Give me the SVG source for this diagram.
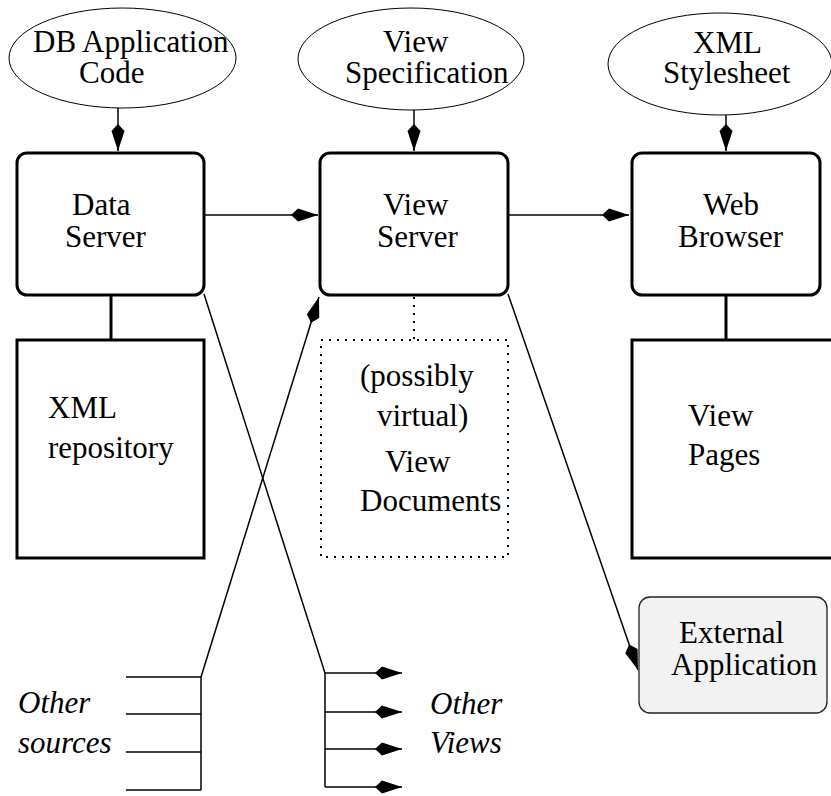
<svg xmlns="http://www.w3.org/2000/svg" width="831" height="796" viewBox="0 0 831 796">
<style>
  text { font-family: "Liberation Serif", "Times New Roman", serif; font-size: 31px; fill: #000; }
  .it { font-style: italic; }
  .ell { fill: #fff; stroke: #000; stroke-width: 1; }
  .box { fill: #fff; stroke: #000; stroke-width: 3; }
  .ext { fill: #f2f2f2; stroke: #222; stroke-width: 1.3; }
  .dot { fill: none; stroke: #000; stroke-width: 2; stroke-dasharray: 2 6; }
  .ln { fill: none; stroke: #000; stroke-width: 1.5; }
  .thick { fill: none; stroke: #000; stroke-width: 3; }
  .arr { marker-end: url(#kite); }
</style>
<defs>
  <marker id="kite" viewBox="-28 -8 29 16" refX="0" refY="0" markerWidth="29" markerHeight="16" markerUnits="userSpaceOnUse" orient="auto">
    <path d="M0,0 L-20,-6.5 L-27,0 L-20,6.5 Z" fill="#000"/>
  </marker>
</defs>
<rect width="831" height="796" fill="#fff"/>

<g id="connectors">
  <line class="ln arr" x1="118" y1="108" x2="118" y2="151"/>
  <line class="ln arr" x1="414" y1="110" x2="414" y2="151"/>
  <line class="ln arr" x1="726" y1="115" x2="726" y2="151"/>
  <line class="ln arr" x1="204" y1="215" x2="318" y2="215"/>
  <line class="ln arr" x1="508" y1="215" x2="629" y2="215"/>
  <line class="thick" x1="111" y1="295" x2="111" y2="340"/>
  <line class="thick" x1="726" y1="295" x2="726" y2="340"/>
  <line class="dot" x1="414" y1="297" x2="414" y2="340"/>
  <polyline class="ln" points="204,294 325,673 325,787"/>
  <line class="ln arr" x1="325" y1="673" x2="402" y2="673"/>
  <line class="ln arr" x1="325" y1="712" x2="402" y2="712"/>
  <line class="ln arr" x1="325" y1="749" x2="402" y2="749"/>
  <line class="ln arr" x1="325" y1="787" x2="402" y2="787"/>
  <polyline class="ln" points="201,790 201,677"/>
  <line class="ln arr" x1="201" y1="677" x2="319" y2="297"/>
  <line class="ln" x1="126" y1="677" x2="201" y2="677"/>
  <line class="ln" x1="126" y1="714" x2="201" y2="714"/>
  <line class="ln" x1="126" y1="752" x2="201" y2="752"/>
  <line class="ln" x1="126" y1="790" x2="201" y2="790"/>
  <line class="ln arr" x1="508" y1="294" x2="638" y2="670"/>
</g>

<g id="db-app-code">
  <ellipse class="ell" cx="122.5" cy="58" rx="113.5" ry="50"/>
  <text x="33" y="52">DB Application</text>
  <text x="79" y="83">Code</text>
</g>
<g id="view-spec">
  <ellipse class="ell" cx="411" cy="59" rx="113" ry="51"/>
  <text x="383" y="52">View</text>
  <text x="345" y="83">Specification</text>
</g>
<g id="xml-stylesheet">
  <ellipse class="ell" cx="720" cy="64" rx="112" ry="51"/>
  <text x="693" y="53">XML</text>
  <text x="663" y="83">Stylesheet</text>
</g>

<g id="data-server">
  <rect class="box" x="17" y="153" width="187" height="142" rx="10"/>
  <text x="72" y="215">Data</text>
  <text x="65" y="247">Server</text>
</g>
<g id="view-server">
  <rect class="box" x="320" y="153" width="188" height="142" rx="10"/>
  <text x="383" y="215">View</text>
  <text x="377" y="247">Server</text>
</g>
<g id="web-browser">
  <rect class="box" x="632" y="153" width="188" height="142" rx="10"/>
  <text x="703" y="215">Web</text>
  <text x="678" y="247">Browser</text>
</g>

<g id="xml-repository">
  <rect class="box" x="17" y="340" width="187" height="218"/>
  <text x="48" y="418">XML</text>
  <text x="48" y="458">repository</text>
</g>
<g id="view-documents">
  <rect class="dot" x="321" y="340" width="187" height="217"/>
  <text x="360" y="386">(possibly</text>
  <text x="377" y="426">virtual)</text>
  <text x="385" y="472">View</text>
  <text x="360" y="511">Documents</text>
</g>
<g id="view-pages">
  <rect class="box" x="632" y="340" width="210" height="218"/>
  <text x="688" y="426">View</text>
  <text x="688" y="465">Pages</text>
</g>

<g id="external-application">
  <rect class="ext" x="639" y="597" width="188" height="116" rx="11"/>
  <text x="679" y="643">External</text>
  <text x="671" y="675">Application</text>
</g>

<g id="other-sources">
  <text class="it" x="18" y="713">Other</text>
  <text class="it" x="18" y="753">sources</text>
</g>
<g id="other-views">
  <text class="it" x="430" y="714">Other</text>
  <text class="it" x="430" y="753">Views</text>
</g>
</svg>
